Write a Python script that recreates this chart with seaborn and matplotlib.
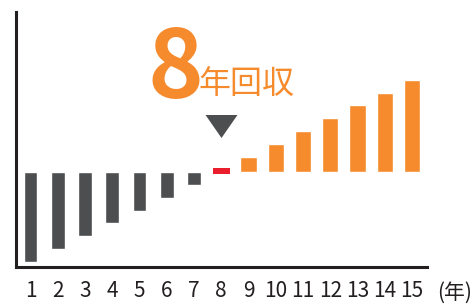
import numpy as np
import pandas as pd
import seaborn as sns
import matplotlib
matplotlib.use("Agg")
import matplotlib.pyplot as plt

# values (pixel-ish units, baseline = 0)
years = list(range(1, 16))
loss_years = [1, 2, 3, 4, 5, 6, 7]
loss_vals = [-90, -77, -64, -51, -39, -26, -13]
even_year = [8]
even_vals = [6]
even_bottom = -2
gain_years = [9, 10, 11, 12, 13, 14, 15]
gain_vals = [15, 28, 41, 54, 67, 79, 92]
tick_labels = [str(y) for y in years]

dark = "#4d4e50"
orange = "#f68b2e"
red = "#ea1d2c"
black = "#231f20"

sns.set_style("white")
plt.rcParams["font.family"] = ["Noto Sans CJK JP", "DejaVu Sans"]

W, H = 475, 307
fig = plt.figure(figsize=(W / 100, H / 100), dpi=100)
ax = fig.add_axes([16 / W, (H - 266.5) / H, (427 - 16) / W, (266.5 - 12) / H])

df_loss = pd.DataFrame({"year": loss_years, "val": loss_vals})
df_gain = pd.DataFrame({"year": gain_years, "val": gain_vals})

sns.barplot(data=df_loss, x="year", y="val", native_scale=True, color=dark,
            saturation=1, width=0.5, ax=ax, errorbar=None)
sns.barplot(data=df_gain, x="year", y="val", native_scale=True, color=orange,
            saturation=1, width=0.6, ax=ax, errorbar=None)
ax.bar(even_year, even_vals, bottom=even_bottom, width=0.63, color=red, linewidth=0)

# payback marker
tri = [(-1, 0.72), (1, 0.72), (0, -0.72), (-1, 0.72)]
ax.scatter([8], [46], marker=tri, s=23 ** 2, color=dark, linewidths=0, zorder=3)

ax.set_xlim(0.468, 15.55)
ax.set_ylim(-95, 159.5)
ax.set_xticks(years)
ax.set_xticklabels(tick_labels, fontsize=15, color=black)
ax.tick_params(axis="x", length=0, pad=10)
ax.set_yticks([])
ax.set_xlabel("")
ax.set_ylabel("")
for side in ["top", "right"]:
    ax.spines[side].set_visible(False)
for side in ["left", "bottom"]:
    ax.spines[side].set_color(black)
    ax.spines[side].set_linewidth(2.2)

fig.text(437 / W, 1 - 293 / H, "(年)", fontsize=15, color=black,
         ha="left", va="center")
fig.text(148 / W, 1 - 98 / H, "8", fontsize=68, fontweight="bold", color=orange,
         ha="left", va="baseline")
fig.text(198 / W, 1 - 93 / H, "年回収", fontsize=23, color=orange,
         ha="left", va="baseline")

fig.savefig("out.png", dpi=100, facecolor="white")
